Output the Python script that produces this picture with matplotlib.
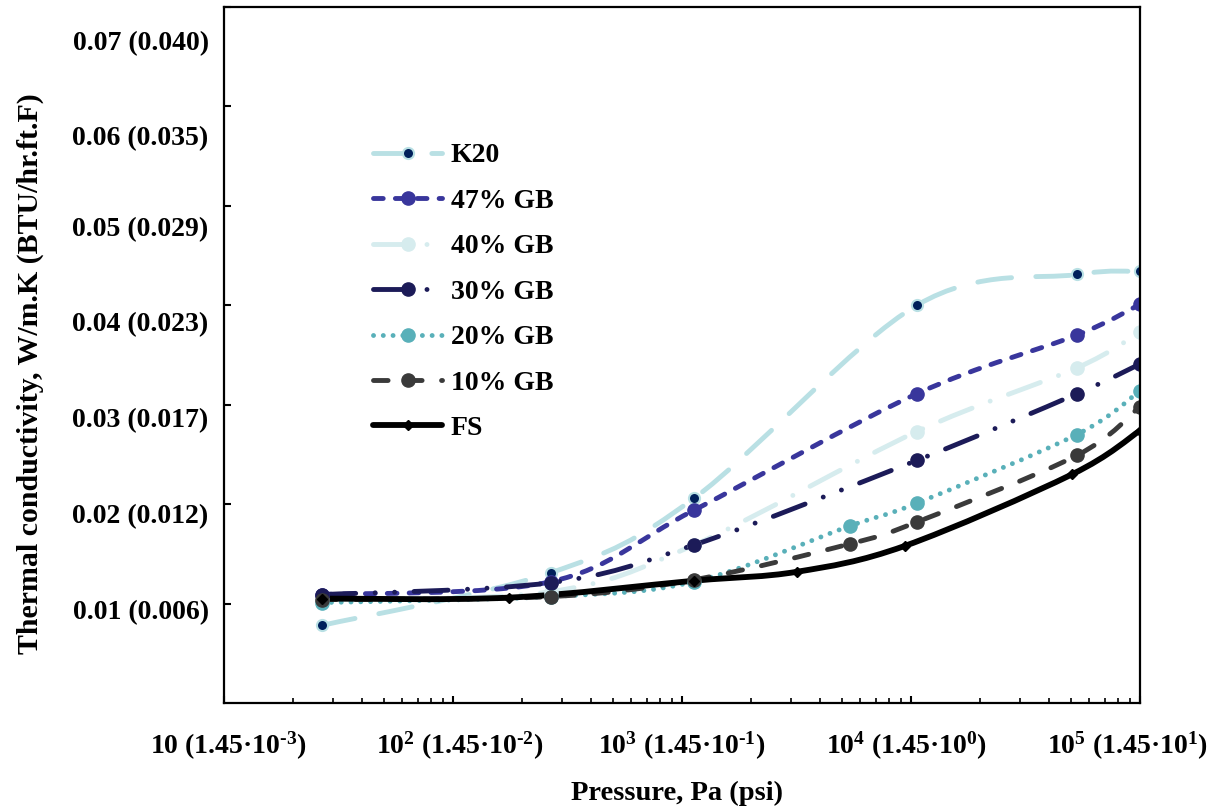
import numpy as np
import matplotlib
matplotlib.use('Agg')
import matplotlib.pyplot as plt
from matplotlib.path import Path
from matplotlib.patches import PathPatch
from matplotlib.lines import Line2D
from matplotlib.ticker import NullFormatter
from matplotlib.transforms import ScaledTranslation

plt.rcParams['font.family'] = ['Liberation Serif', 'DejaVu Serif']
plt.rcParams['font.weight'] = 'bold'
plt.rcParams['mathtext.fontset'] = 'custom'
plt.rcParams['mathtext.rm'] = 'Liberation Serif:bold'
plt.rcParams['mathtext.default'] = 'rm'

# pressure (Pa) and thermal conductivity (W/m.K)
p_k20 = [26.7, 267, 1130, 10600, 53000, 100000]
k_k20 = [0.0078, 0.0131, 0.0206, 0.0400, 0.0431, 0.0434]

p_47 = [26.7, 267, 1130, 10600, 53000, 100000]
k_47 = [0.0109, 0.0122, 0.0194, 0.0311, 0.0370, 0.0401]

p_40 = [26.7, 267, 1130, 10600, 53000, 100000]
k_40 = [0.0104, 0.0112, 0.0159, 0.0273, 0.0337, 0.0373]

p_30 = [26.7, 267, 1130, 10600, 53000, 100000]
k_30 = [0.0109, 0.0121, 0.0159, 0.0244, 0.0311, 0.0341]

p_20 = [26.7, 267, 1130, 5400, 10600, 53000, 100000]
k_20 = [0.0101, 0.0107, 0.0122, 0.0178, 0.0201, 0.0270, 0.0314]

p_10 = [26.7, 267, 1130, 5400, 10600, 53000, 100000]
k_10 = [0.0104, 0.0107, 0.0124, 0.0160, 0.0182, 0.0249, 0.0298]

p_fs = [26.7, 176, 1130, 3180, 9400, 50500, 100000]
k_fs = [0.0105, 0.0106, 0.0123, 0.0132, 0.0158, 0.0230, 0.0274]

names = ['K20', '47% GB', '40% GB', '30% GB', '20% GB', '10% GB', 'FS']

x_ticks = [10, 1e2, 1e3, 1e4, 1e5]
x_labels = ['10 (1.45·10$^{\u20103}$)', '10$^{2}$ (1.45·10$^{\u20102}$)',
            '10$^{3}$ (1.45·10$^{\u20101}$)', '10$^{4}$ (1.45·10$^{0}$)',
            '10$^{5}$ (1.45·10$^{1}$)']
# horizontal nudge of each x label (points)
x_label_shift = [3, 4.5, 0, -3.5, -9]
y_ticks = [0.01, 0.02, 0.03, 0.04, 0.05, 0.06, 0.07]
y_labels = ['0.01 (0.006)', '0.02 (0.012)', '0.03 (0.017)', '0.04 (0.023)',
            '0.05 (0.029)', '0.06 (0.035)', '0.07 (0.040)']
# the labels sit a little below their ticks, more so higher up (points)
y_label_drop = [4, 6.5, 9.5, 12, 15, 21, 24]

DOT = 0.01
series = [
    (p_k20, k_k20, dict(color='#b9e0e4', lw=3.5, dashes=(7, 5), marker='o', ms=8,
                        mfc='#00205b', mec='#b9e0e4', mew=1.5)),
    (p_47, k_47, dict(color='#39369c', lw=3.5, dashes=(2, 2.5), marker='o', ms=9.5,
                      mfc='#39369c', mec='#39369c', mew=1)),
    (p_40, k_40, dict(color='#d6ecee', lw=3.5, dashes=(7, 4, DOT, 4), marker='o', ms=9.5,
                      mfc='#d6ecee', mec='#d6ecee', mew=1)),
    (p_30, k_30, dict(color='#1c1b58', lw=3.5, dashes=(7, 4, DOT, 4, DOT, 4), marker='o',
                      ms=9.5, mfc='#1c1b58', mec='#1c1b58', mew=1)),
    (p_20, k_20, dict(color='#59b0b9', lw=3.5, dashes=(DOT, 2), marker='o', ms=9.5,
                      mfc='#59b0b9', mec='#59b0b9', mew=1)),
    (p_10, k_10, dict(color='#3a3a3a', lw=3.5, dashes=(3, 4), marker='o', ms=9.5,
                      mfc='#3a3a3a', mec='#3a3a3a', mew=1)),
    (p_fs, k_fs, dict(color='black', lw=4.2, dashes=None, marker='D', ms=5,
                      mfc='black', mec='black', mew=1)),
]


def smooth_path(px, py):
    # Catmull-Rom style bezier through the points, built in log-x space
    u = np.log10(px)
    v = np.asarray(py, dtype=float)
    n = len(u)
    verts = [(px[0], v[0])]
    codes = [Path.MOVETO]
    for i in range(n - 1):
        i0 = max(i - 1, 0)
        i3 = min(i + 2, n - 1)
        c1u = u[i] + (u[i + 1] - u[i0]) / 6
        c1v = v[i] + (v[i + 1] - v[i0]) / 6
        c2u = u[i + 1] - (u[i3] - u[i]) / 6
        c2v = v[i + 1] - (v[i3] - v[i]) / 6
        verts += [(10 ** c1u, c1v), (10 ** c2u, c2v), (px[i + 1], v[i + 1])]
        codes += [Path.CURVE4] * 3
    return Path(verts, codes)


fig = plt.figure(figsize=(12.07, 8.06), dpi=100)
ax = fig.add_axes([224 / 1207, 1 - 703 / 806, 916 / 1207, 696 / 806])

handles = []
for (px, py, st), name in zip(series, names):
    ls = '-' if st['dashes'] is None else (0, st['dashes'])
    patch = PathPatch(smooth_path(px, py), fill=False, edgecolor=st['color'],
                      lw=st['lw'], linestyle=ls, capstyle='round', joinstyle='round')
    ax.add_patch(patch)
    ax.plot(px, py, linestyle='none', marker=st['marker'], ms=st['ms'],
            mfc=st['mfc'], mec=st['mec'], mew=st['mew'])
    h = Line2D([], [], color=st['color'], lw=st['lw'], linestyle=ls,
               dash_capstyle='round', solid_capstyle='round', marker=st['marker'],
               ms=st['ms'], mfc=st['mfc'], mec=st['mec'], mew=st['mew'])
    handles.append(h)

ax.set_xscale('log')
ax.set_xlim(10, 1e5)
ax.set_ylim(0, 0.07)
ax.set_xticks(x_ticks, x_labels)
ax.xaxis.set_minor_formatter(NullFormatter())
ax.set_yticks(y_ticks, y_labels)
ax.tick_params(axis='x', which='major', direction='in', length=5, width=1.5,
               labelsize=20, pad=19)
ax.tick_params(axis='x', which='minor', direction='in', length=3.5, width=1.2)
ax.tick_params(axis='y', direction='in', length=5, width=1.5, labelsize=20, pad=11)
for lab, d in zip(ax.get_yticklabels(), y_label_drop):
    lab.set_transform(lab.get_transform() + ScaledTranslation(0, -d / 72, fig.dpi_scale_trans))
for lab, d in zip(ax.get_xticklabels(), x_label_shift):
    lab.set_transform(lab.get_transform() + ScaledTranslation(d / 72, 0, fig.dpi_scale_trans))

for s in ax.spines.values():
    s.set_linewidth(1.6)

ax.set_xlabel('Pressure, Pa (psi)', fontsize=20.5, fontweight='bold')
ax.xaxis.set_label_coords(0.495, -0.112)
ax.set_ylabel('Thermal conductivity, W/m.K (BTU/hr.ft.F)', fontsize=21.5, fontweight='bold')
ax.yaxis.set_label_coords(-0.196, 0.473)

ax.legend(handles, names, loc='upper left', bbox_to_anchor=(373 / 1207, 1 - 143 / 806),
          bbox_transform=fig.transFigure, frameon=False, fontsize=20, borderpad=0,
          borderaxespad=0, handlelength=2.5, handletextpad=0.3, labelspacing=0.72,
          numpoints=1)

fig.savefig('out.png', dpi=100)
